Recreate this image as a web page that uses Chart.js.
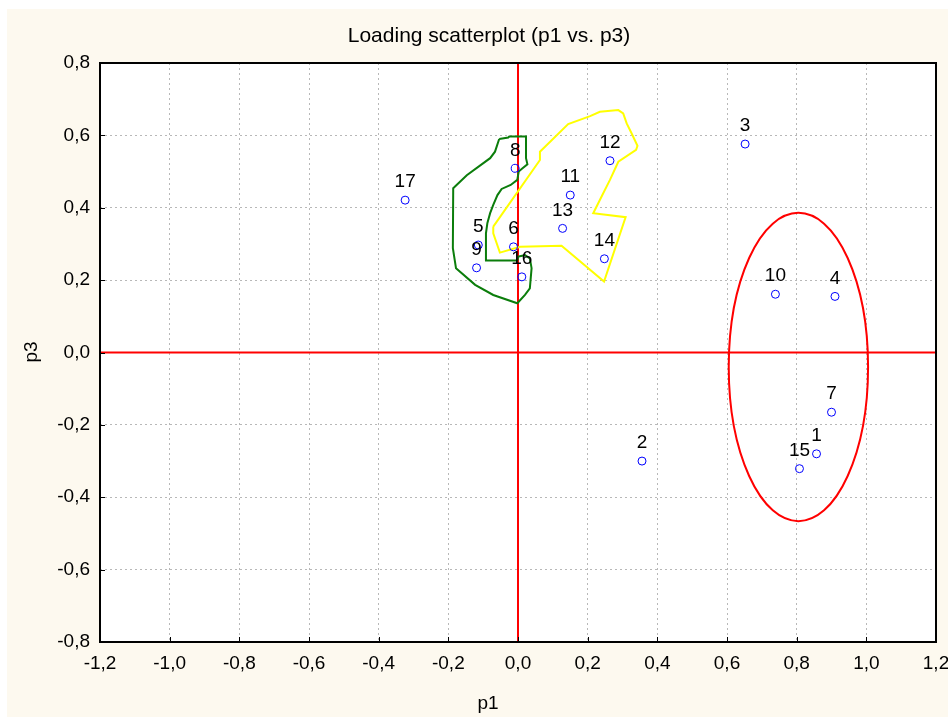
<!DOCTYPE html>
<html>
<head>
<meta charset="utf-8">
<script src="https://cdn.jsdelivr.net/npm/chart.js@4/dist/chart.umd.min.js"></script>
<style>
  html, body { margin: 0; padding: 0; background: #ffffff; }
  #box { position: absolute; left: 7px; top: 9px; width: 941px; height: 708px; background: #fdf9ef; }
</style>
</head>
<body>
<div id="box"><canvas id="myChart"></canvas></div>
<script>
// loadings
var caseLabels = ['1','2','3','4','5','6','7','8','9','10','11','12','13','14','15','16','17'];
var p1 = [0.857, 0.356, 0.652, 0.910, -0.114, -0.013, 0.900, -0.008, -0.119, 0.739, 0.150, 0.264, 0.128, 0.248, 0.808, 0.011, -0.324];
var p3 = [-0.280, -0.300, 0.576, 0.155, 0.297, 0.292, -0.165, 0.509, 0.234, 0.161, 0.435, 0.530, 0.343, 0.259, -0.321, 0.209, 0.421];

// hand drawn group outlines
var greenX = [-0.054, -0.028, -0.025, 0.023, 0.023, 0.027, 0.013, 0.002, -0.002, -0.021, -0.047, -0.059, -0.071, -0.080, -0.088, -0.092, -0.092, -0.002, 0.001, 0.020, 0.034, 0.039, 0.034, 0.020, -0.002, -0.071, -0.123, -0.178, -0.187, -0.186, -0.147, -0.080, -0.066, -0.054];
var greenY = [0.590, 0.594, 0.597, 0.597, 0.537, 0.520, 0.509, 0.500, 0.477, 0.463, 0.452, 0.435, 0.408, 0.385, 0.357, 0.329, 0.254, 0.254, 0.265, 0.269, 0.260, 0.233, 0.177, 0.159, 0.136, 0.159, 0.187, 0.233, 0.288, 0.454, 0.490, 0.537, 0.555, 0.590];
var yellowX = [-0.071, 0.063, 0.063, 0.144, 0.207, 0.235, 0.288, 0.302, 0.312, 0.326, 0.343, 0.339, 0.288, 0.264, 0.240, 0.216, 0.309, 0.247, 0.125, 0.006, -0.052, -0.071, -0.071];
var yellowY = [0.348, 0.532, 0.555, 0.631, 0.653, 0.665, 0.670, 0.661, 0.633, 0.606, 0.571, 0.560, 0.527, 0.477, 0.431, 0.385, 0.374, 0.196, 0.295, 0.292, 0.276, 0.329, 0.348];

// ellipse round the right group: centre and half axes in p1/p3 units
var ellipseCentre = [0.805, -0.040];
var ellipseRadius = [0.200, 0.426];

var xTicksMin = -1.2, xTicksMax = 1.2;
var yTicksMin = -0.8, yTicksMax = 0.8;
var tickStep = 0.2;

function pairs(xs, ys) {
  var out = [];
  for (var i = 0; i < xs.length; i++) out.push({x: xs[i], y: ys[i]});
  return out;
}

function commaNum(v) {
  if (Math.abs(v) < 1e-9) v = 0;
  return v.toFixed(1).replace('.', ',');
}

var FONT = "'Liberation Sans', Arial, sans-serif";

var decor = {
  id: 'decor',
  beforeDraw: function(chart) {
    var ctx = chart.ctx, a = chart.chartArea;
    ctx.save();
    ctx.fillStyle = '#ffffff';
    ctx.fillRect(a.left, a.top, a.right - a.left, a.bottom - a.top);
    ctx.restore();
  },
  beforeDatasetsDraw: function(chart) {
    var ctx = chart.ctx, a = chart.chartArea;
    var xs = chart.scales.x, ys = chart.scales.y;
    ctx.save();
    // red zero lines
    ctx.strokeStyle = '#ff0000';
    ctx.lineWidth = 2;
    ctx.beginPath();
    var x0 = xs.getPixelForValue(0), y0 = ys.getPixelForValue(0);
    ctx.moveTo(x0, a.top); ctx.lineTo(x0, a.bottom);
    ctx.moveTo(a.left, y0); ctx.lineTo(a.right, y0);
    ctx.stroke();
    // ellipse
    var cx = xs.getPixelForValue(ellipseCentre[0]);
    var cy = ys.getPixelForValue(ellipseCentre[1]);
    var rx = Math.abs(xs.getPixelForValue(ellipseCentre[0] + ellipseRadius[0]) - cx);
    var ry = Math.abs(ys.getPixelForValue(ellipseCentre[1] + ellipseRadius[1]) - cy);
    ctx.beginPath();
    ctx.ellipse(cx, cy, rx, ry, 0, 0, Math.PI * 2);
    ctx.stroke();
    ctx.restore();
  },
  afterDraw: function(chart) {
    var ctx = chart.ctx, a = chart.chartArea;
    var xs = chart.scales.x, ys = chart.scales.y;
    ctx.save();
    // frame
    ctx.strokeStyle = '#000000';
    ctx.lineWidth = 2;
    ctx.strokeRect(a.left, a.top, a.right - a.left, a.bottom - a.top);
    // little inward ticks
    ctx.lineWidth = 1;
    ctx.beginPath();
    xs.ticks.forEach(function(t) {
      var px = Math.round(xs.getPixelForValue(t.value)) + 0.5;
      ctx.moveTo(px, a.bottom); ctx.lineTo(px, a.bottom - 5);
    });
    ys.ticks.forEach(function(t) {
      var py = Math.round(ys.getPixelForValue(t.value)) + 0.5;
      ctx.moveTo(a.left, py); ctx.lineTo(a.left + 5, py);
    });
    ctx.stroke();
    // point numbers
    var meta = chart.getDatasetMeta(0);
    ctx.fillStyle = '#000000';
    ctx.font = '19px ' + FONT;
    ctx.textAlign = 'center';
    ctx.textBaseline = 'middle';
    meta.data.forEach(function(el, i) {
      ctx.fillText(caseLabels[i], el.x, el.y - 18);
    });
    // titles
    ctx.font = '21px ' + FONT;
    ctx.fillText('Loading scatterplot (p1 vs. p3)', 482, 27);
    ctx.font = '19px ' + FONT;
    ctx.fillText('p1', 481, 695);
    ctx.translate(25, 343);
    ctx.rotate(-Math.PI / 2);
    ctx.fillText('p3', 0, 0);
    ctx.restore();
  }
};

var ctx = document.getElementById('myChart').getContext('2d');
var chart = new Chart(ctx, {
  type: 'scatter',
  data: {
    datasets: [{
      label: 'cases',
      data: pairs(p1, p3),
      pointRadius: 4,
      pointHoverRadius: 4,
      borderColor: '#0000ff',
      backgroundColor: 'rgba(0,0,0,0)',
      borderWidth: 1
    }, {
      label: 'green group',
      data: pairs(greenX, greenY),
      showLine: true,
      pointRadius: 0,
      borderColor: '#0b7d0b',
      borderWidth: 2,
      tension: 0
    }, {
      label: 'yellow group',
      data: pairs(yellowX, yellowY),
      showLine: true,
      pointRadius: 0,
      borderColor: '#ffff00',
      borderWidth: 2,
      tension: 0
    }]
  },
  options: {
    responsive: true,
    maintainAspectRatio: false,
    animation: false,
    layout: { padding: { left: 0, top: 54, right: 12, bottom: 0 } },
    plugins: {
      legend: { display: false },
      tooltip: { enabled: false },
      title: { display: false }
    },
    scales: {
      x: {
        type: 'linear',
        min: xTicksMin,
        max: xTicksMax,
        afterFit: function(s) { s.height = 75; s.paddingLeft = 0; s.paddingRight = 0; },
        ticks: {
          stepSize: tickStep,
          autoSkip: false,
          maxRotation: 0,
          padding: 10,
          color: '#000000',
          font: { family: FONT, size: 19 },
          callback: function(v) { return commaNum(v); }
        },
        grid: { color: '#b8b8b8', lineWidth: 1, drawTicks: false },
        border: { display: false, dash: [2, 3] }
      },
      y: {
        type: 'linear',
        min: yTicksMin,
        max: yTicksMax,
        afterFit: function(s) { s.width = 93; s.paddingTop = 0; s.paddingBottom = 0; },
        ticks: {
          stepSize: tickStep,
          autoSkip: false,
          padding: 10,
          color: '#000000',
          font: { family: FONT, size: 19 },
          callback: function(v) { return commaNum(v); }
        },
        grid: { color: '#b8b8b8', lineWidth: 1, drawTicks: false },
        border: { display: false, dash: [2, 3] }
      }
    }
  },
  plugins: [decor]
});
</script>
</body>
</html>
